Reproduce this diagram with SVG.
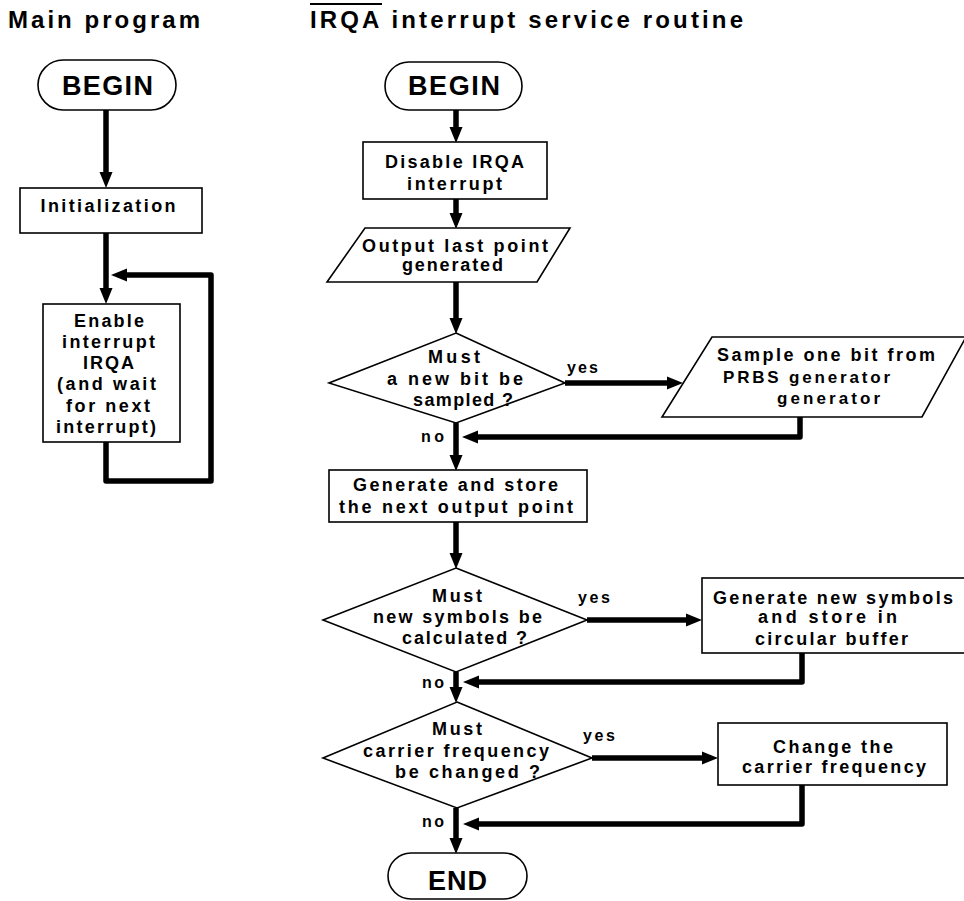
<svg xmlns="http://www.w3.org/2000/svg" width="964" height="901" viewBox="0 0 964 901">
  <style>
    .t { font-family: "Liberation Sans", Arial, Helvetica, sans-serif; font-weight: bold; font-size: 18px; fill: #000; }
    .c { text-anchor: middle; }
    .ttl { font-size: 24px; }
    .term { font-size: 27px; }
    .lbl { font-size: 16px; }
    .sm { font-size: 17px; }
    .shape { fill: #fff; stroke: #000; stroke-width: 1.6; }
    .flow { fill: none; stroke: #000; stroke-width: 5.5; stroke-linejoin: round; marker-end: url(#ah); }
  </style>
  <defs>
    <marker id="ah" markerUnits="userSpaceOnUse" markerWidth="16" markerHeight="14" viewBox="0 -7 16 14" refX="1" refY="0" orient="auto" overflow="visible">
      <path d="M0,-6.5 L16,0 L0,6.5 z" fill="#000"/>
    </marker>
  </defs>
  <rect width="964" height="901" fill="#fff"/>

  <!-- column headings -->
  <g id="titles">
    <text class="t ttl" x="8" y="28" textLength="192" lengthAdjust="spacing">Main program</text>
    <text class="t ttl" x="310" y="28" textLength="433" lengthAdjust="spacing">IRQA interrupt service routine</text>
    <line x1="310" y1="4" x2="382" y2="4" stroke="#000" stroke-width="2"/>
  </g>

  <!-- connectors -->
  <g id="connectors">
    <!-- main program -->
    <path class="flow" d="M106,110 V173"/>
    <path class="flow" d="M106,233 V289"/>
    <path class="flow" d="M106,442 V481 H211 V275 H126"/>
    <!-- interrupt routine, main spine -->
    <path class="flow" d="M456,110 V128"/>
    <path class="flow" d="M456,199 V214"/>
    <path class="flow" d="M456,282 V319"/>
    <path class="flow" d="M456,423 V456"/>
    <path class="flow" d="M456,522 V554"/>
    <path class="flow" d="M456,672 V688"/>
    <path class="flow" d="M456,808 V839"/>
    <!-- branches -->
    <path class="flow" d="M565,383 H668"/>
    <path class="flow" d="M800,417 V437 H477"/>
    <path class="flow" d="M587,620 H687"/>
    <path class="flow" d="M802,653 V682 H478"/>
    <path class="flow" d="M592,758 H703"/>
    <path class="flow" d="M802,785 V824 H478"/>
  </g>

  <!-- branch labels -->
  <g id="labels">
    <text class="t lbl" x="567" y="373" textLength="31" lengthAdjust="spacing">yes</text>
    <text class="t lbl" x="421" y="442" textLength="23" lengthAdjust="spacing">no</text>
    <text class="t lbl" x="578" y="603" textLength="32" lengthAdjust="spacing">yes</text>
    <text class="t lbl" x="422" y="688" textLength="22" lengthAdjust="spacing">no</text>
    <text class="t lbl" x="583" y="741" textLength="32" lengthAdjust="spacing">yes</text>
    <text class="t lbl" x="422" y="827" textLength="22" lengthAdjust="spacing">no</text>
  </g>

  <!-- main program nodes -->
  <g id="main-begin">
    <rect class="shape" x="38" y="60" width="138" height="50" rx="25"/>
    <text class="t term c" x="107.5" y="95" textLength="91" lengthAdjust="spacing">BEGIN</text>
  </g>
  <g id="init">
    <rect class="shape" x="20" y="188" width="182" height="45"/>
    <text class="t c" x="108" y="212" textLength="135" lengthAdjust="spacing">Initialization</text>
  </g>
  <g id="enable">
    <rect class="shape" x="43" y="304" width="137" height="138"/>
    <text class="t c" x="109" y="327" textLength="70" lengthAdjust="spacing">Enable</text>
    <text class="t c" x="108.5" y="348" textLength="93" lengthAdjust="spacing">interrupt</text>
    <text class="t c" x="108.5" y="369" textLength="51" lengthAdjust="spacing">IRQA</text>
    <text class="t c" x="106.5" y="390" textLength="99" lengthAdjust="spacing">(and wait</text>
    <text class="t c" x="108" y="412" textLength="84" lengthAdjust="spacing">for next</text>
    <text class="t c" x="106" y="433" textLength="100" lengthAdjust="spacing">interrupt)</text>
  </g>

  <!-- interrupt routine nodes -->
  <g id="isr-begin">
    <rect class="shape" x="385" y="62" width="137" height="48" rx="24"/>
    <text class="t term c" x="454" y="95" textLength="92" lengthAdjust="spacing">BEGIN</text>
  </g>
  <g id="disable">
    <rect class="shape" x="363" y="142" width="184" height="57"/>
    <text class="t c" x="454.5" y="168" textLength="139" lengthAdjust="spacing">Disable IRQA</text>
    <text class="t c" x="454.5" y="190" textLength="95" lengthAdjust="spacing">interrupt</text>
  </g>
  <g id="output-point">
    <polygon class="shape" points="365,228 570,228 537,282 327,282"/>
    <text class="t c" x="455" y="252" textLength="186" lengthAdjust="spacing">Output last point</text>
    <text class="t c" x="452.5" y="271" textLength="101" lengthAdjust="spacing">generated</text>
  </g>
  <g id="bit-decision">
    <polygon class="shape" points="456,333 565,383 456,423 329,383"/>
    <text class="t c" x="454" y="363" textLength="52" lengthAdjust="spacing">Must</text>
    <text class="t c" x="455" y="385" textLength="136" lengthAdjust="spacing">a new bit be</text>
    <text class="t c" x="463" y="406" textLength="100" lengthAdjust="spacing">sampled ?</text>
  </g>
  <g id="sample-bit">
    <polygon class="shape" points="712,337 966,337 922,417 662,417"/>
    <text class="t c" x="826" y="361" textLength="218" lengthAdjust="spacing">Sample one bit from</text>
    <text class="t sm" x="723" y="383" textLength="167" lengthAdjust="spacing">PRBS generator</text>
    <text class="t sm" x="777" y="404" textLength="103" lengthAdjust="spacing">generator</text>
  </g>
  <g id="generate-point">
    <rect class="shape" x="329" y="470" width="258" height="52"/>
    <text class="t c" x="455.5" y="491" textLength="205" lengthAdjust="spacing">Generate and store</text>
    <text class="t c" x="456" y="513" textLength="234" lengthAdjust="spacing">the next output point</text>
  </g>
  <g id="symbols-decision">
    <polygon class="shape" points="456,568 587,620 456,672 323,620"/>
    <text class="t c" x="457" y="602" textLength="50" lengthAdjust="spacing">Must</text>
    <text class="t c" x="457.5" y="623" textLength="169" lengthAdjust="spacing">new symbols be</text>
    <text class="t c" x="464.5" y="644" textLength="125" lengthAdjust="spacing">calculated ?</text>
  </g>
  <g id="new-symbols">
    <rect class="shape" x="702" y="578" width="266" height="75"/>
    <text class="t c" x="833" y="604" textLength="240" lengthAdjust="spacing">Generate new symbols</text>
    <text class="t c" x="827.5" y="623" textLength="139" lengthAdjust="spacing">and store in</text>
    <text class="t c" x="831.5" y="645" textLength="153" lengthAdjust="spacing">circular buffer</text>
  </g>
  <g id="carrier-decision">
    <polygon class="shape" points="457,702 592,758 457,808 323,758"/>
    <text class="t c" x="457" y="735" textLength="50" lengthAdjust="spacing">Must</text>
    <text class="t c" x="456" y="757" textLength="186" lengthAdjust="spacing">carrier frequency</text>
    <text class="t c" x="467.5" y="778" textLength="145" lengthAdjust="spacing">be changed ?</text>
  </g>
  <g id="change-carrier">
    <rect class="shape" x="718" y="723" width="229" height="62"/>
    <text class="t c" x="833" y="753" textLength="120" lengthAdjust="spacing">Change the</text>
    <text class="t c" x="834" y="773" textLength="184" lengthAdjust="spacing">carrier frequency</text>
  </g>
  <g id="isr-end">
    <rect class="shape" x="388" y="853" width="139" height="46" rx="23"/>
    <text class="t term c" x="457.5" y="890" textLength="59" lengthAdjust="spacing">END</text>
  </g>
</svg>
